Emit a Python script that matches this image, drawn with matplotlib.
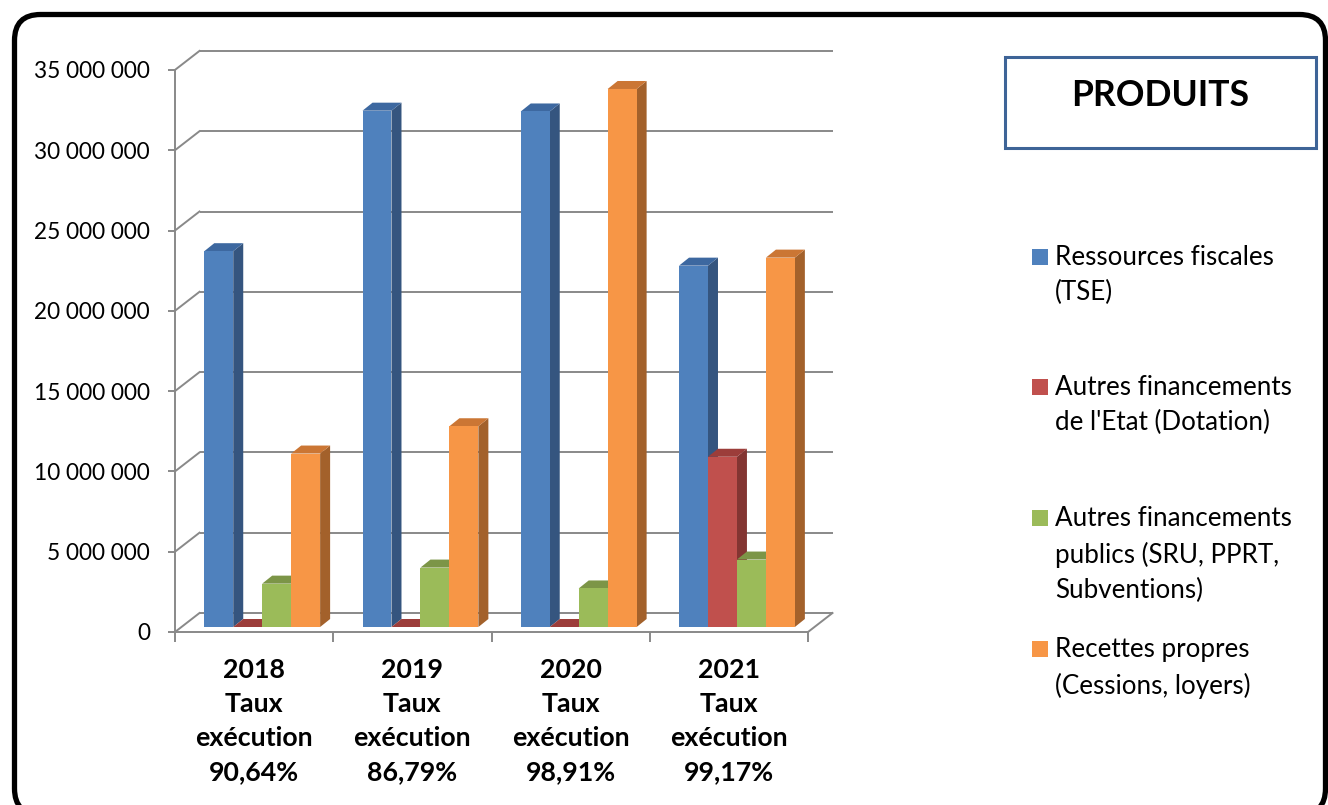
import matplotlib
matplotlib.use('Agg')
import matplotlib.pyplot as plt
from matplotlib.patches import Polygon, Rectangle, FancyBboxPatch
from matplotlib.transforms import Affine2D

plt.rcParams['font.family'] = ['Lato', 'DejaVu Sans']

# data (values in euros)
years = ['2018', '2019', '2020', '2021']
taux = ['90,64%', '86,79%', '98,91%', '99,17%']
series_names = ['Ressources fiscales\n(TSE)',
                "Autres financements\nde l'Etat (Dotation)",
                'Autres financements\npublics (SRU, PPRT,\nSubventions)',
                'Recettes propres\n(Cessions, loyers)']
ressources = [23.4e6, 32.15e6, 32.1e6, 22.5e6]
dotation = [0, 0, 0, 10.6e6]
publics = [2.7e6, 3.7e6, 2.4e6, 4.2e6]
propres = [10.8e6, 12.5e6, 33.5e6, 23.0e6]
yticks = list(range(0, 35000001, 5000000))

fronts = ['#4F81BD', '#C0504D', '#9BBB59', '#F79646']
sides = ['#35557F', '#833532', '#6F8A3D', '#A3612B']
tops = ['#3D68A0', '#9C3D3A', '#7C9547', '#CB7634']
grid_c = '#898989'

W, H = 1328, 805
fig = plt.figure(figsize=(W / 100, H / 100), dpi=100)
pix = Affine2D().scale(1 / W, -1 / H).translate(0, 1) + fig.transFigure

# mapping of the front plane (pixels)
X0, PXC = 175, 158.25          # category 0 position, px per category
Y0, PXV = 632, 16.06e-6        # value 0 position, px per euro
xlim = (-0.35, 4.45)
ylim = (-2.5e6, 37.0e6)
left = X0 + xlim[0] * PXC
right = X0 + xlim[1] * PXC
bot = Y0 - ylim[0] * PXV
top = Y0 - ylim[1] * PXV
ax = fig.add_axes([left / W, (H - bot) / H, (right - left) / W, (bot - top) / H])
ax.set_xlim(*xlim)
ax.set_ylim(*ylim)
ax.set_facecolor('none')

# 3d depth offsets
DXW = 24.5 / PXC                 # wall depth
DYW = 19 / PXV
BYO = 5 / PXV                    # bar front offset
SDX, SDY = 10 / PXC, 8 / PXV     # bar depth

# walls
ax.hlines([v + DYW for v in yticks], DXW, 4 + DXW, color=grid_c, lw=1.4, zorder=1)
for v in yticks:
    ax.plot([0, DXW], [v, v + DYW], color=grid_c, lw=1.4, zorder=1)
ax.plot([4, 4 + DXW], [0, DYW], color=grid_c, lw=1.4, zorder=1)

for s in ['top', 'right']:
    ax.spines[s].set_visible(False)
for s in ['left', 'bottom']:
    ax.spines[s].set_position(('data', 0))
    ax.spines[s].set_color(grid_c)
    ax.spines[s].set_linewidth(1.4)
ax.spines['left'].set_bounds(0, 35e6)
ax.spines['bottom'].set_bounds(0, 4)

ax.set_yticks(yticks, [f'{v:,}'.replace(',', ' ') for v in yticks])
ax.tick_params(axis='y', length=5, width=1.4, color=grid_c, pad=13, labelsize=16.3)
ax.set_xticks(range(5), [''] * 5)
ax.tick_params(axis='x', which='major', length=7, width=1.4, color=grid_c)
ax.set_xticks([i + 0.5 for i in range(4)],
              [f'{y}\nTaux\nexécution\n{t}' for y, t in zip(years, taux)], minor=True)
ax.tick_params(axis='x', which='minor', length=0, pad=18.5, labelsize=19.3)
for lab in ax.get_xticklabels(minor=True):
    lab.set_fontweight('bold')
    lab.set_linespacing(1.5)

# bars
W_BAR, START = 0.183, 0.185
for j, vals in enumerate([ressources, dotation, publics, propres]):
    xs = [i + START + j * W_BAR for i in range(4)]
    ax.bar(xs, vals, width=W_BAR, bottom=BYO, align='edge', color=fronts[j],
           zorder=4 + 2 * j)
    for x0, v in zip(xs, vals):
        y1 = BYO + v
        side = [(x0 + W_BAR, BYO), (x0 + W_BAR + SDX, BYO + SDY),
                (x0 + W_BAR + SDX, y1 + SDY), (x0 + W_BAR, y1)]
        topf = [(x0, y1), (x0 + SDX, y1 + SDY), (x0 + W_BAR + SDX, y1 + SDY), (x0 + W_BAR, y1)]
        ax.add_patch(Polygon(side, closed=True, fc=sides[j], ec='none', zorder=3 + 2 * j))
        ax.add_patch(Polygon(topf, closed=True, fc=tops[j], ec='none', zorder=3 + 2 * j))

# legend (drawn by hand to match the layout)
leg_y = [257, 387, 518, 649]
for j, (name, yy) in enumerate(zip(series_names, leg_y)):
    fig.patches.append(Rectangle((1032, yy - 8), 16, 16, transform=pix,
                                 fc=fronts[j], ec='none'))
    fig.text(1055, yy - 12, name, transform=pix, fontsize=18.7, va='top', ha='left',
             linespacing=1.5)

# outer rounded frame
fig.patches.append(FancyBboxPatch((14.5, 14.5), 1311, 800, transform=pix,
                                  boxstyle='round,pad=0,rounding_size=26',
                                  fc='white', ec='black', lw=3.8, zorder=-1))

# title box
fig.patches.append(Rectangle((1005, 57), 311, 91, transform=pix, fc='white',
                             ec='#3E6497', lw=2.2))
fig.text(1160, 95, 'PRODUITS', transform=pix, fontsize=25.6, fontweight='bold',
         ha='center', va='center')

fig.savefig('out.png', dpi=100)
